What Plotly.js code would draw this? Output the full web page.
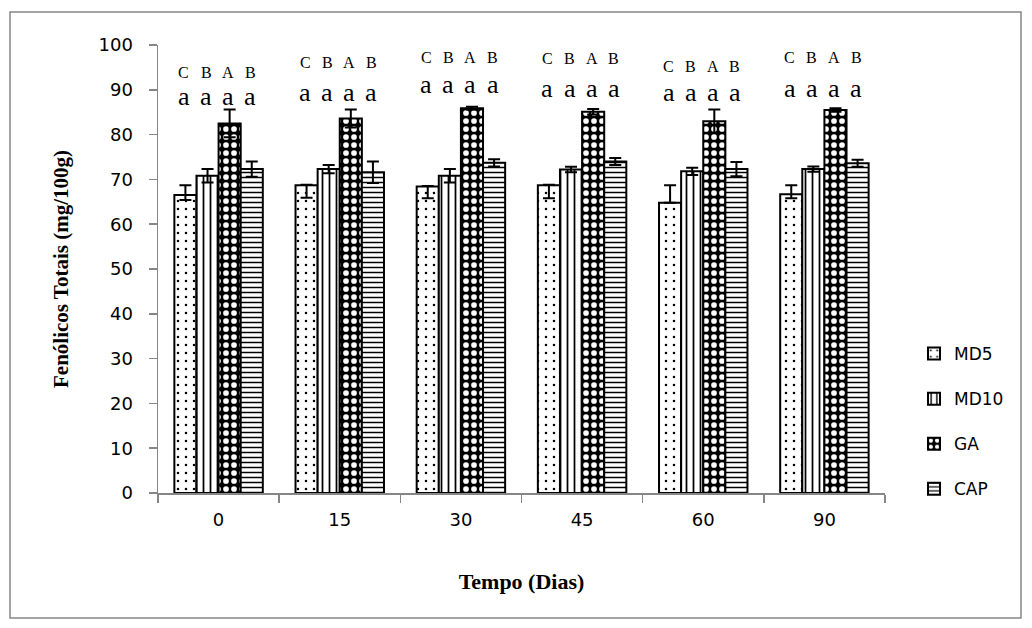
<!DOCTYPE html>
<html>
<head>
<meta charset="utf-8">
<script src="https://cdn.plot.ly/plotly-3.0.1.min.js"></script>
<style>
  html, body { margin: 0; padding: 0; background: #fff; }
  #chart { width: 1032px; height: 628px; }
</style>
</head>
<body>
<div id="chart"></div>
<script>
// Storage time (days)
const days = ['0', '15', '30', '45', '60', '90'];

// Total phenolics (mg/100g) per formulation
const md5  = [66.5, 68.7, 68.4, 68.7, 64.8, 66.7];
const md10 = [70.8, 72.3, 70.8, 72.2, 71.8, 72.3];
const ga   = [82.5, 83.6, 85.9, 85.1, 83.0, 85.5];
const cap  = [72.3, 71.6, 73.7, 74.0, 72.3, 73.6];

// Error bars (upper / lower)
const md5Up    = [2.2, 0.1, 0.1, 0.1, 3.9, 2.0];
const md5Down  = [1.1, 2.8, 2.6, 2.9, 0.0, 0.9];
const md10Err  = [1.5, 0.9, 1.5, 0.6, 0.8, 0.6];
const gaErr    = [3.1, 2.0, 0.3, 0.6, 2.6, 0.4];
const capErr   = [1.7, 2.4, 0.8, 0.8, 1.6, 0.8];

// Significance letters per bar (MD5, MD10, GA, CAP)
const upperLetters = [
  ['C', 'B', 'A', 'B'], ['C', 'B', 'A', 'B'], ['C', 'B', 'A', 'B'],
  ['C', 'B', 'A', 'B'], ['C', 'B', 'A', 'B'], ['C', 'B', 'A', 'B']
];
const lowerLetters = [
  ['a', 'a', 'a', 'a'], ['a', 'a', 'a', 'a'], ['a', 'a', 'a', 'a'],
  ['a', 'a', 'a', 'a'], ['a', 'a', 'a', 'a'], ['a', 'a', 'a', 'a']
];

// Heights (axis units) of the two letter rows for each day
const upperRowY = [93.8, 96.2, 97.1, 96.9, 95.3, 97.3];
const lowerRowY = [88.4, 89.3, 91.1, 90.2, 89.5, 90.2];

const M = { l: 158, r: 147, t: 45, b: 135 };
const W = 1032, H = 628;
const plotW = W - M.l - M.r, plotH = H - M.t - M.b;
const BARGAP = 0.27;
const barPx = (plotW / days.length) * (1 - BARGAP) / 4;

const outline = { color: '#000', width: 2 };
const errStyle = { type: 'data', symmetric: true, color: '#000', thickness: 2, width: 6 };

function barTrace(name, y, pattern, err) {
  return {
    type: 'bar', name: name, x: days, y: y,
    legendgroup: name,
    marker: { color: '#fff', line: outline, pattern: pattern },
    error_y: err
  };
}

const traces = [
  barTrace('MD5', md5,
    { shape: '.', bgcolor: '#fff', fgcolor: '#000', size: 8, solidity: 0.08 },
    { type: 'data', symmetric: false, array: md5Up, arrayminus: md5Down,
      color: '#000', thickness: 2, width: 6 }),
  barTrace('MD10', md10,
    { shape: '|', bgcolor: '#fff', fgcolor: '#000', size: 7, solidity: 0.25 },
    Object.assign({ array: md10Err }, errStyle)),
  barTrace('GA', ga,
    { shape: '.', bgcolor: '#000', fgcolor: '#fff', size: 8, solidity: 0.4 },
    Object.assign({ array: gaErr }, errStyle)),
  barTrace('CAP', cap,
    { shape: '-', bgcolor: '#fff', fgcolor: '#000', size: 5, solidity: 0.3 },
    Object.assign({ array: capErr }, errStyle))
];

// Letter annotations, each centred over its bar (x given as category index)
const annotations = [];
days.forEach((d, g) => {
  for (let s = 0; s < 4; s++) {
    const shift = (s - 1.5) * barPx - 1.5;
    annotations.push({
      x: g, y: upperRowY[g], xref: 'x', yref: 'y', xshift: shift,
      text: upperLetters[g][s], showarrow: false, yanchor: 'middle',
      font: { family: 'Liberation Serif', size: 16, color: '#000' }
    });
    annotations.push({
      x: g, y: lowerRowY[g], xref: 'x', yref: 'y', xshift: shift,
      text: lowerLetters[g][s], showarrow: false, yanchor: 'middle',
      font: { family: 'Liberation Serif', size: 26, color: '#000' }
    });
  }
});

// Chart-area frame
const frame = {
  type: 'rect', xref: 'paper', yref: 'paper',
  x0: (10 - M.l) / plotW, x1: (1021 - M.l) / plotW,
  y0: (H - M.b - 618) / plotH, y1: (H - M.b - 12) / plotH,
  line: { color: '#868686', width: 1.5 }, fillcolor: 'rgba(0,0,0,0)', layer: 'below'
};

const axisColor = '#868686';
const tickFont = { family: 'DejaVu Sans', size: 18, color: '#000' };

const layout = {
  width: W, height: H,
  margin: M,
  paper_bgcolor: '#fff', plot_bgcolor: '#fff',
  barmode: 'group', bargap: BARGAP, bargroupgap: 0,
  showlegend: true,
  legend: {
    x: (914 - M.l) / plotW, xanchor: 'left',
    y: (H - M.b - 336) / plotH, yanchor: 'top',
    font: { family: 'DejaVu Sans', size: 17, color: '#000' },
    tracegroupgap: 20, bgcolor: 'rgba(0,0,0,0)', itemclick: false
  },
  xaxis: {
    type: 'category', categoryorder: 'array', categoryarray: days,
    range: [-0.5, days.length - 0.5], autorange: false,
    showline: true, linecolor: axisColor, linewidth: 1.5,
    ticks: 'outside', tickson: 'boundaries', ticklen: 8, tickcolor: axisColor, tickwidth: 1.5,
    tickfont: tickFont, ticklabelstandoff: 10, tickangle: 0,
    showgrid: false, zeroline: false,
    title: {
      text: '<b>Tempo (Dias)</b>', standoff: 44,
      font: { family: 'Liberation Serif', size: 22, color: '#000' }
    }
  },
  yaxis: {
    range: [0, 100], autorange: false, dtick: 10, tick0: 0,
    showline: true, linecolor: axisColor, linewidth: 1.5,
    ticks: 'outside', ticklen: 8, tickcolor: axisColor, tickwidth: 1.5,
    tickfont: tickFont, ticklabelstandoff: 12,
    showgrid: false, zeroline: false,
    title: {
      text: '<b>Fenólicos Totais (mg/100g)</b>', standoff: 24,
      font: { family: 'Liberation Serif', size: 21, color: '#000' }
    }
  },
  annotations: annotations,
  shapes: [frame]
};

Plotly.newPlot('chart', traces, layout, { displayModeBar: false, staticPlot: true });
</script>
</body>
</html>
